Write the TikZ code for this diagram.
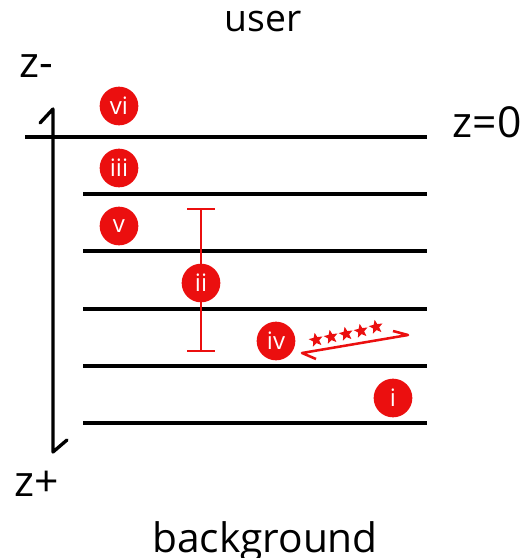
\documentclass[tikz,border=0pt]{standalone}
\usepackage{fontspec}
\setmainfont{Open Sans}
\usetikzlibrary{shapes.geometric}
\definecolor{rd}{RGB}{235,15,15}
\tikzset{
  layer/.style={line width=2.5pt, black},
  badge/.style={circle, fill=rd, text=white, minimum size=29pt, inner sep=0pt, font=\fontsize{18}{19}\selectfont},
  lbl/.style={inner sep=0pt},
  redline/.style={rd, line width=1.9pt},
  rstar/.style={star, star points=5, star point ratio=2.3, fill=rd, minimum size=11pt, inner sep=0pt, rotate=11},
}
\begin{document}
\begin{tikzpicture}[x=0.75pt,y=-0.75pt]
\useasboundingbox (0,0) rectangle (526,558);
% texts
\node[lbl, font=\fontsize{28}{30}\selectfont] (user) at (263,22) {user};
\node[lbl, font=\fontsize{32}{34}\selectfont] (zm) at (36,66) {z-};
\node[lbl, font=\fontsize{32}{34}\selectfont] (z0) at (487,122) {z=0};
\node[lbl, font=\fontsize{32}{34}\selectfont] (zp) at (37,484) {z+};
\node[lbl, anchor=base, font=\fontsize{30.5}{32}\selectfont] (bg) at (265,552) {background};
% axis
\coordinate (atop) at (53,109);
\coordinate (abot) at (53,452);
\coordinate (htop) at (40,123);
\coordinate (hbot) at (67,440);
\draw[line width=2.5pt, line cap=round, line join=round] (htop) -- (atop) -- (abot) -- (hbot);
% layers
\coordinate (l0a) at (25,137); \coordinate (l0b) at (427,137);
\draw[layer] (l0a) -- (l0b);
\foreach \y in {194,251,309,366,423} {
  \coordinate (la\y) at (83,\y); \coordinate (lb\y) at (427,\y);
  \draw[layer] (la\y) -- (lb\y);
}
% bracket ii
\coordinate (bt) at (201,209); \coordinate (bb) at (201,351);
\coordinate (btl) at (187,209); \coordinate (btr) at (215,209);
\coordinate (bbl) at (187,351); \coordinate (bbr) at (215,351);
\draw[redline] (bt) -- (bb);
\draw[redline] (btl) -- (btr);
\draw[redline] (bbl) -- (bbr);
% badges
\node[badge] (vi) at (119,106) {vi};
\node[badge] (iii) at (119,168) {iii};
\node[badge] (v) at (119,226) {v};
\node[badge] (ii) at (201,283) {ii};
\node[badge] (iv) at (276,341) {iv};
\node[badge] (i) at (393,398) {i};
% arrow iv
\coordinate (ar) at (408,335);
\coordinate (al) at (302,353);
\coordinate (arh) at (393,331);
\coordinate (alh) at (316,359);
\draw[redline, line join=round] (arh) -- (ar) -- (al) -- (alh);
\node[rstar] (s1) at (316,340) {};
\node[rstar] (s2) at (331,337) {};
\node[rstar] (s3) at (346,334) {};
\node[rstar] (s4) at (361,331) {};
\node[rstar] (s5) at (376,327) {};
\end{tikzpicture}
\end{document}
